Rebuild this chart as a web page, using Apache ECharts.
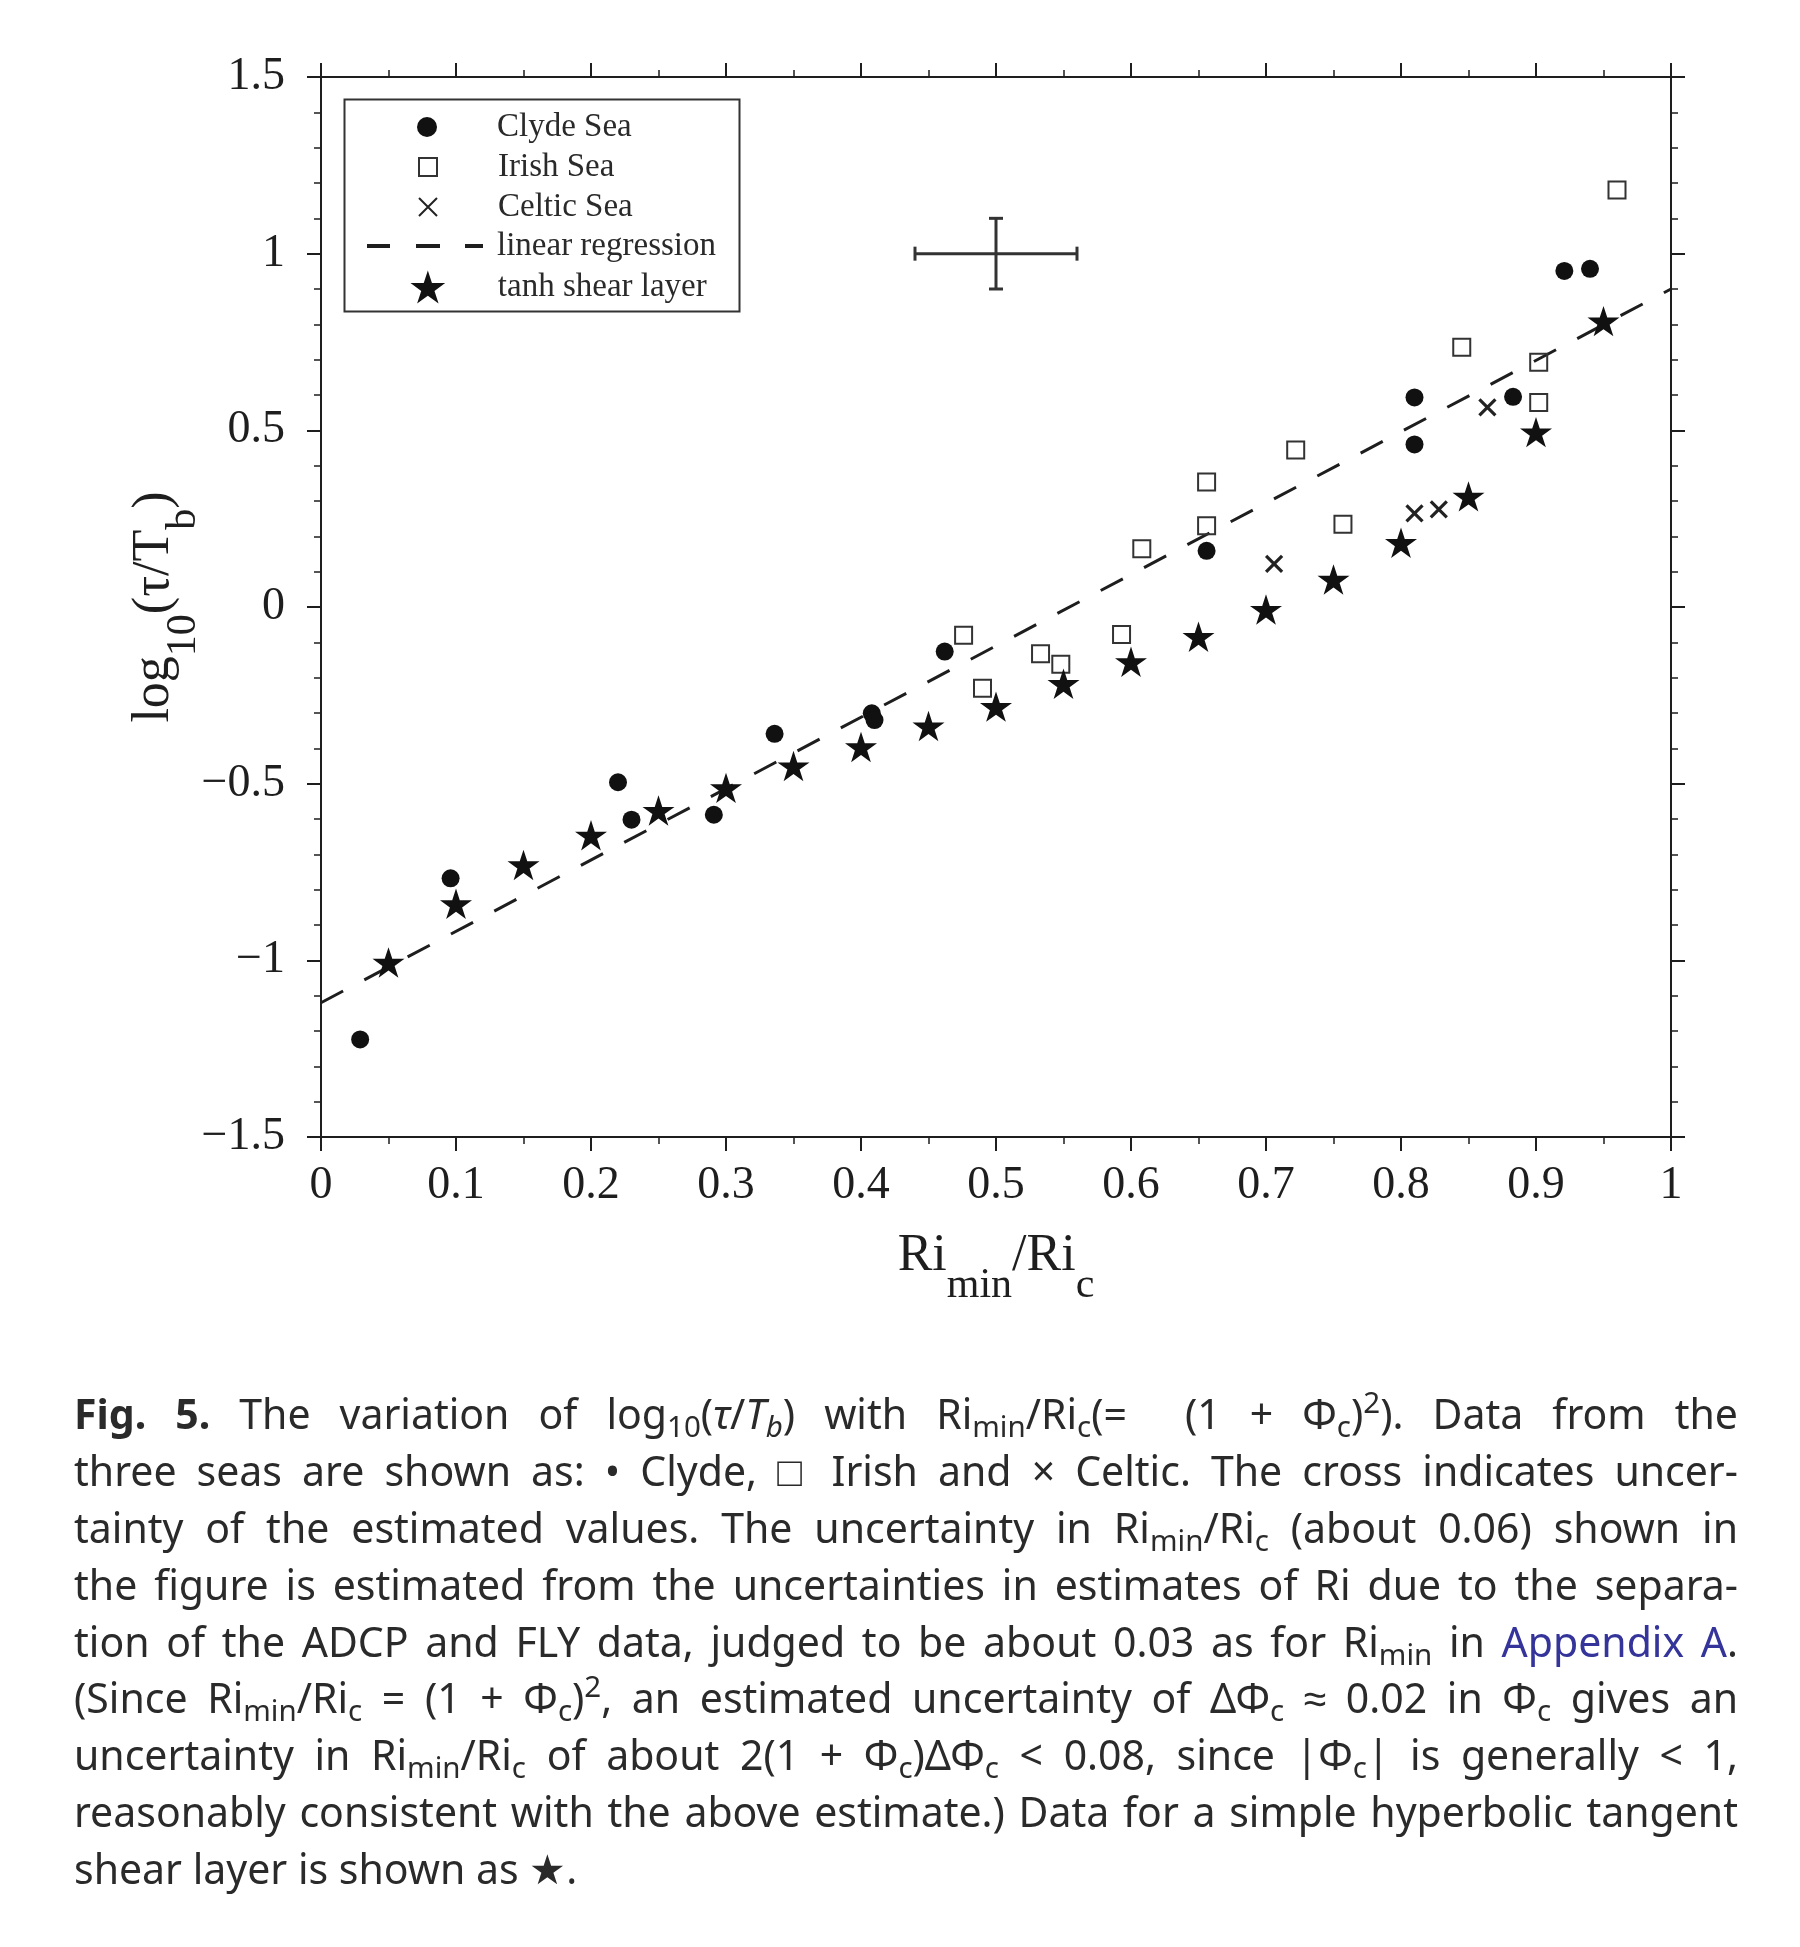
<!DOCTYPE html>
<html>
<head>
<meta charset="utf-8">
<script src="https://cdn.jsdelivr.net/npm/echarts@6/dist/echarts.min.js"></script>
<style>
html,body{margin:0;padding:0;background:#fff;}
#chart{position:absolute;left:0;top:0;width:1800px;height:1947px;}
#caption{position:absolute;left:74px;top:1385px;width:1664px;font-family:"Noto Sans",sans-serif;font-size:41px;color:#2a2a2a;}
.ln{height:56.9px;line-height:56.9px;text-align:justify;text-align-last:justify;overflow:visible;}
.ln.last{text-align-last:left;}
#caption sub,#caption sup{font-size:0.72em;line-height:0;}
#caption sub{vertical-align:-0.28em;}
#caption sup{vertical-align:0.55em;}
.blue{color:#34349a;}
</style>
</head>
<body>
<div id="chart"></div>
<div id="caption">
<div class="ln"><b>Fig. 5.</b> The variation of log<sub>10</sub>(<i>τ</i>/<i>T<sub>b</sub></i>) with Ri<sub>min</sub>/Ri<sub>c</sub>(= &nbsp;(1 + Φ<sub>c</sub>)<sup>2</sup>). Data from the</div>
<div class="ln">three seas are shown as: • Clyde, □ Irish and × Celtic. The cross indicates uncer-</div>
<div class="ln">tainty of the estimated values. The uncertainty in Ri<sub>min</sub>/Ri<sub>c</sub> (about 0.06) shown in</div>
<div class="ln">the figure is estimated from the uncertainties in estimates of Ri due to the separa-</div>
<div class="ln">tion of the ADCP and FLY data, judged to be about 0.03 as for Ri<sub>min</sub> in <span class="blue">Appendix A</span>.</div>
<div class="ln">(Since Ri<sub>min</sub>/Ri<sub>c</sub> = (1 + Φ<sub>c</sub>)<sup>2</sup>, an estimated uncertainty of ΔΦ<sub>c</sub> ≈ 0.02 in Φ<sub>c</sub> gives an</div>
<div class="ln">uncertainty in Ri<sub>min</sub>/Ri<sub>c</sub> of about 2(1 + Φ<sub>c</sub>)ΔΦ<sub>c</sub> &lt; 0.08, since |Φ<sub>c</sub>| is generally &lt; 1,</div>
<div class="ln">reasonably consistent with the above estimate.) Data for a simple hyperbolic tangent</div>
<div class="ln last">shear layer is shown as ★.</div>
</div>
<script>
// ---- data ----
const clydeX = [0.029, 0.096, 0.220, 0.230, 0.291, 0.336, 0.408, 0.410, 0.462, 0.656, 0.810, 0.810, 0.883, 0.921, 0.940];
const clydeY = [-1.224, -0.768, -0.496, -0.602, -0.588, -0.359, -0.301, -0.320, -0.126, 0.159, 0.593, 0.460, 0.595, 0.951, 0.957];

const irishX = [0.476, 0.490, 0.533, 0.548, 0.593, 0.608, 0.656, 0.656, 0.722, 0.757, 0.845, 0.902, 0.902, 0.960];
const irishY = [-0.080, -0.230, -0.132, -0.162, -0.078, 0.165, 0.354, 0.230, 0.444, 0.234, 0.735, 0.693, 0.579, 1.180];

const celticX = [0.706, 0.810, 0.828, 0.864];
const celticY = [0.122, 0.265, 0.276, 0.565];

const tanhX = [0.05, 0.10, 0.15, 0.20, 0.25, 0.30, 0.35, 0.40, 0.45, 0.50, 0.55, 0.60, 0.65, 0.70, 0.75, 0.80, 0.85, 0.90, 0.95];
const tanhY = [-1.006, -0.840, -0.730, -0.646, -0.576, -0.512, -0.450, -0.396, -0.337, -0.282, -0.217, -0.155, -0.084, -0.007, 0.078, 0.182, 0.313, 0.495, 0.809];

const regX = [0, 1];
const regY = [-1.12, 0.90];

const errCenterX = [0.5];
const errCenterY = [1.0];
const errHalfX = [0.06];
const errHalfY = [0.1];

const xTickLabels = ['0', '0.1', '0.2', '0.3', '0.4', '0.5', '0.6', '0.7', '0.8', '0.9', '1'];
const yTickLabels = ['\u22121.5', '\u22121', '\u22120.5', '0', '0.5', '1', '1.5'];

const seriesNames = ['Clyde Sea', 'Irish Sea', 'Celtic Sea', 'linear regression', 'tanh shear layer'];

// ---- caption: keep each printed line on one line ----
document.querySelectorAll('#caption .ln').forEach(function (el) {
  const inner = document.createElement('span');
  inner.innerHTML = el.innerHTML;
  el.innerHTML = '';
  el.appendChild(inner);
  const oldA = el.style.textAlign, oldL = el.style.textAlignLast;
  el.style.textAlign = 'left'; el.style.textAlignLast = 'left';
  inner.style.whiteSpace = 'nowrap';
  const w = inner.getBoundingClientRect().width;
  const avail = el.getBoundingClientRect().width - 2;
  if (w > avail) {
    const n = inner.textContent.length;
    el.style.letterSpacing = ((avail - w) / n).toFixed(3) + 'px';
  }
  inner.style.whiteSpace = '';
  el.style.textAlign = oldA; el.style.textAlignLast = oldL;
});

// ---- chart ----
const zip = (xs, ys) => xs.map((x, i) => [x, ys[i]]);
const FONT = 'Liberation Serif';
const INK = '#1e1e1e';
const STAR = 'path://M50,0L61.23,34.55L97.55,34.55L68.17,55.9L79.39,90.45L50,69.1L20.61,90.45L31.83,55.9L2.45,34.55L38.77,34.55Z';
const XMARK = 'path://M0,0L10,10M10,0L0,10';
const SQUARE = 'path://M0,0L10,0L10,10L0,10Z';
const DASHICON = 'path://M0,0M5,0h23v4h-23zM54,0h24v4h-24zM103,0h18v4h-18zM130,4';

const X_MIN = 0, X_MAX = 1, X_INT = 0.1;
const Y_MIN = -1.5, Y_MAX = 1.5, Y_INT = 0.5;

const nameRich = {
  a: {fontFamily: FONT, fontSize: 52, lineHeight: 52, color: INK, verticalAlign: 'top'},
  s: {fontFamily: FONT, fontSize: 42, lineHeight: 42, color: INK, verticalAlign: 'top', padding: [35, 0, 0, 0]}
};

function axisBase(extra) {
  return Object.assign({
    type: 'value',
    axisLine: {show: true, onZero: false, lineStyle: {color: INK, width: 2}},
    axisTick: {show: true, inside: false, length: 14, lineStyle: {color: INK, width: 2}},
    minorTick: {show: true, length: 7, lineStyle: {color: INK, width: 1.5}},
    splitLine: {show: false},
    minorSplitLine: {show: false}
  }, extra);
}

const labelStyle = {fontFamily: FONT, fontSize: 46, color: INK};

// legend rows: icon centred at x=427, text starting at x=497
function mkLegend(name, itemHeight, centerY, extra) {
  return Object.assign({
    data: [name],
    left: 427 - itemHeight / 2,
    top: centerY - 20,
    orient: 'horizontal',
    itemWidth: 130,
    itemHeight: itemHeight,
    padding: 0,
    itemGap: 0,
    selectedMode: false,
    symbolKeepAspect: true,
    textStyle: {fontFamily: FONT, fontSize: 33, color: '#2a2a2a', lineHeight: 40}
  }, extra || {});
}

const chart = echarts.init(document.getElementById('chart'), null, {renderer: 'canvas'});

chart.setOption({
  animation: false,
  backgroundColor: '#ffffff',
  grid: {left: 321, right: 129, top: 77, bottom: 810, containLabel: false},
  xAxis: [
    axisBase({
      position: 'bottom', min: X_MIN, max: X_MAX, interval: X_INT,
      minorTick: {show: true, splitNumber: 2, length: 7, lineStyle: {color: INK, width: 1.5}},
      axisLabel: Object.assign({margin: 26, formatter: v => xTickLabels[Math.round((v - X_MIN) / X_INT)]}, labelStyle),
      name: '{a|Ri}{s|min}{a|/Ri}{s|c}',
      nameLocation: 'middle', nameGap: 93, nameMoveOverlap: false,
      nameTextStyle: {rich: nameRich}
    }),
    axisBase({
      position: 'top', min: X_MIN, max: X_MAX, interval: X_INT,
      minorTick: {show: true, splitNumber: 2, length: 7, lineStyle: {color: INK, width: 1.5}},
      axisLabel: {show: false}
    })
  ],
  yAxis: [
    axisBase({
      position: 'left', min: Y_MIN, max: Y_MAX, interval: Y_INT,
      minorTick: {show: true, splitNumber: 5, length: 7, lineStyle: {color: INK, width: 1.5}},
      axisLabel: Object.assign({margin: 36, formatter: v => yTickLabels[Math.round((v - Y_MIN) / Y_INT)]}, labelStyle),
      name: '{a|log}{s|10}{a|(\u03c4/T}{s|b}{a|)}',
      nameLocation: 'middle', nameGap: 141, nameMoveOverlap: false,
      nameTextStyle: {rich: nameRich}
    }),
    axisBase({
      position: 'right', min: Y_MIN, max: Y_MAX, interval: Y_INT,
      minorTick: {show: true, splitNumber: 5, length: 7, lineStyle: {color: INK, width: 1.5}},
      axisLabel: {show: false}
    })
  ],
  legend: [
    mkLegend(seriesNames[0], 20, 127),
    mkLegend(seriesNames[1], 18, 167),
    mkLegend(seriesNames[2], 18, 207),
    Object.assign(mkLegend(seriesNames[3], 4, 246), {left: 362, data: [{name: seriesNames[3], icon: DASHICON, itemStyle: {color: INK, borderWidth: 0}}], symbolKeepAspect: false}),
    mkLegend(seriesNames[4], 33, 287)
  ],
  graphic: [
    {type: 'rect', left: 342, top: 97, shape: {x: 0, y: 0, width: 395, height: 212}, style: {fill: 'none', stroke: '#333', lineWidth: 2}, silent: true, z: 10}
  ],
  series: [
    {
      name: seriesNames[3], type: 'line', xAxisIndex: 0, yAxisIndex: 0,
      data: zip(regX, regY), symbol: 'none', showSymbol: false,
      lineStyle: {color: INK, width: 3, type: [25, 24]},
      itemStyle: {color: INK},
      z: 2
    },
    {
      name: seriesNames[0], type: 'scatter', data: zip(clydeX, clydeY),
      symbol: 'circle', symbolSize: 18,
      itemStyle: {color: '#111', opacity: 1},
      z: 3
    },
    {
      name: seriesNames[1], type: 'scatter', data: zip(irishX, irishY),
      symbol: SQUARE, symbolSize: 17, symbolKeepAspect: true,
      itemStyle: {color: 'rgba(255,255,255,0)', borderColor: '#333', borderWidth: 2, opacity: 1},
      z: 3
    },
    {
      name: seriesNames[2], type: 'scatter', data: zip(celticX, celticY),
      symbol: XMARK, symbolSize: 16, symbolKeepAspect: true,
      itemStyle: {color: '#222', borderColor: '#222', borderWidth: 3.2, opacity: 1},
      z: 3
    },
    {
      name: seriesNames[4], type: 'scatter', data: zip(tanhX, tanhY),
      symbol: STAR, symbolSize: 32, symbolKeepAspect: true,
      itemStyle: {color: '#111', opacity: 1},
      z: 3
    },
    {
      name: 'uncertainty', type: 'custom', xAxisIndex: 0, yAxisIndex: 0,
      data: errCenterX.map((x, i) => [x, errCenterY[i], errHalfX[i], errHalfY[i]]),
      renderItem: function (params, api) {
        const x = api.value(0), y = api.value(1), dx = api.value(2), dy = api.value(3);
        const L = api.coord([x - dx, y]), R = api.coord([x + dx, y]);
        const T = api.coord([x, y + dy]), B = api.coord([x, y - dy]);
        const cap = 7;
        const st = {stroke: '#333', lineWidth: 3};
        return {
          type: 'group',
          children: [
            {type: 'line', shape: {x1: L[0], y1: L[1], x2: R[0], y2: R[1]}, style: st},
            {type: 'line', shape: {x1: T[0], y1: T[1], x2: B[0], y2: B[1]}, style: st},
            {type: 'line', shape: {x1: L[0], y1: L[1] - cap, x2: L[0], y2: L[1] + cap}, style: st},
            {type: 'line', shape: {x1: R[0], y1: R[1] - cap, x2: R[0], y2: R[1] + cap}, style: st},
            {type: 'line', shape: {x1: T[0] - cap, y1: T[1], x2: T[0] + cap, y2: T[1]}, style: st},
            {type: 'line', shape: {x1: B[0] - cap, y1: B[1], x2: B[0] + cap, y2: B[1]}, style: st}
          ]
        };
      },
      z: 3
    }
  ]
});
</script>
</body>
</html>
